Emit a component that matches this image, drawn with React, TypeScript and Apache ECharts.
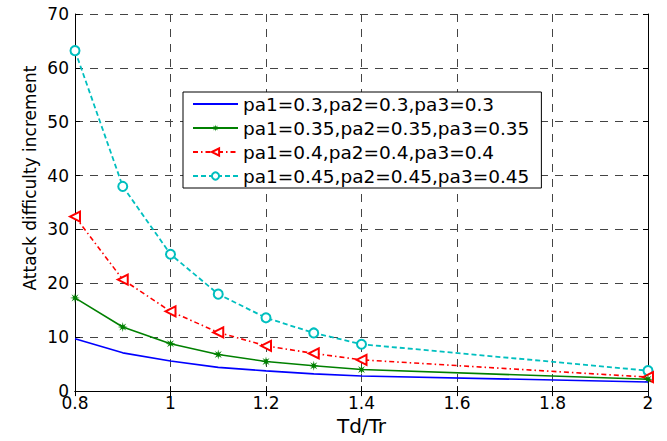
import React, { useEffect, useRef } from "react";
import * as echarts from "echarts";

const xValues = [0.8, 0.9, 1.0, 1.1, 1.2, 1.3, 1.4, 2.0];
const seriesNames = [
  "pa1=0.3,pa2=0.3,pa3=0.3",
  "pa1=0.35,pa2=0.35,pa3=0.35",
  "pa1=0.4,pa2=0.4,pa3=0.4",
  "pa1=0.45,pa2=0.45,pa3=0.45",
];
const blueValues = [9.7, 7.1, 5.6, 4.4, 3.75, 3.2, 2.8, 1.7];
const greenValues = [17.3, 11.9, 8.8, 6.8, 5.5, 4.7, 4.0, 2.2];
const redValues = [32.4, 20.7, 14.8, 10.9, 8.4, 7.0, 5.8, 2.6];
const cyanValues = [63.2, 38.0, 25.4, 18.0, 13.6, 10.8, 8.7, 3.8];
const xAxisTitle = "Td/Tr";
const yAxisTitle = "Attack difficulty increment";

const FONT = "DejaVu Sans";
const STAR =
  "path://M10,5 L6.66,5.69 L8.54,8.54 L5.69,6.66 L5,10 L4.31,6.66 L1.46,8.54 L3.34,5.69 L0,5 L3.34,4.31 L1.46,1.46 L4.31,3.34 L5,0 L5.69,3.34 L8.54,1.46 L6.66,4.31 Z";

function pairs(vals: number[]) {
  return xValues.map((x, i) => [x, vals[i]]);
}

export default function App() {
  const ref = useRef<HTMLDivElement>(null);
  useEffect(() => {
    if (!ref.current) return;
    const chart = echarts.init(ref.current, undefined, { renderer: "svg" });
    const gridLine = { show: true, lineStyle: { color: "#444", type: [8, 7], width: 1 } };
    const fmt = (v: number) => String(+Number(v).toFixed(1));
    const boxAxisLine = { show: true, lineStyle: { color: "#000", width: 1 } };
    const inTick = { show: true, inside: true, length: 5, lineStyle: { color: "#000" } };
    chart.setOption({
      animation: false,
      backgroundColor: "#fff",
      grid: { left: 75, right: 19, top: 14, bottom: 48, containLabel: false },
      legend: {
        orient: "vertical",
        left: 183,
        top: 92,
        padding: [2, 12, 2, 9],
        itemWidth: 45,
        itemHeight: 9,
        itemGap: 4,
        backgroundColor: "#fff",
        borderColor: "#000",
        borderWidth: 1,
        borderRadius: 0,
        textStyle: { fontFamily: FONT, fontSize: 18.5, color: "#000", lineHeight: 20 },
        data: [
          { name: seriesNames[0], itemStyle: { opacity: 0 } },
          seriesNames[1],
          seriesNames[2],
          seriesNames[3],
        ],
      },
      xAxis: [
        {
          type: "value",
          min: 0.8,
          max: 2,
          interval: 0.2,
          name: xAxisTitle,
          nameLocation: "middle",
          nameGap: 22,
          nameTextStyle: { fontFamily: FONT, fontSize: 20, color: "#000" },
          axisLine: boxAxisLine,
          axisTick: inTick,
          axisLabel: { fontFamily: FONT, fontSize: 17, color: "#000", margin: 3, formatter: fmt },
          splitLine: gridLine,
        },
        {
          type: "value",
          position: "top",
          min: 0.8,
          max: 2,
          interval: 0.2,
          axisLine: boxAxisLine,
          axisTick: inTick,
          axisLabel: { show: false },
          splitLine: { show: false },
        },
      ],
      yAxis: [
        {
          type: "value",
          min: 0,
          max: 70,
          interval: 10,
          axisLine: boxAxisLine,
          axisTick: inTick,
          axisLabel: { fontFamily: FONT, fontSize: 17, color: "#000", margin: 6 },
          splitLine: gridLine,
        },
        {
          type: "value",
          position: "right",
          min: 0,
          max: 70,
          interval: 10,
          axisLine: boxAxisLine,
          axisTick: inTick,
          axisLabel: { show: false },
          splitLine: { show: false },
        },
      ],
      graphic: [
        {
          type: "text",
          x: 30,
          y: 178,
          rotation: Math.PI / 2,
          style: {
            text: yAxisTitle,
            fontFamily: FONT,
            fontSize: 17,
            fill: "#000",
            align: "center",
            verticalAlign: "middle",
          },
        },
      ],
      series: [
        {
          name: seriesNames[0],
          type: "line",
          data: pairs(blueValues),
          symbol: "none",
          color: "#0000ff",
          lineStyle: { color: "#0000ff", width: 1.6 },
          z: 5,
        },
        {
          name: seriesNames[1],
          type: "line",
          data: pairs(greenValues),
          symbol: STAR,
          symbolSize: 10,
          color: "#008000",
          itemStyle: { color: "#008000" },
          lineStyle: { color: "#008000", width: 1.6 },
          z: 4,
        },
        {
          name: seriesNames[2],
          type: "line",
          data: pairs(redValues),
          symbol: "emptyTriangle",
          symbolSize: 10,
          symbolRotate: 90,
          color: "#ff0000",
          itemStyle: { color: "#ff0000", borderWidth: 1.5 },
          lineStyle: { color: "#ff0000", width: 1.6, type: [5, 3, 1.5, 3] },
          z: 3,
        },
        {
          name: seriesNames[3],
          type: "line",
          data: pairs(cyanValues),
          symbol: "emptyCircle",
          symbolSize: 9,
          color: "#00bfbf",
          itemStyle: { color: "#00bfbf", borderWidth: 1.5 },
          lineStyle: { color: "#00bfbf", width: 1.8, type: [5, 3] },
          z: 2,
        },
      ],
    });
    return () => chart.dispose();
  }, []);
  return (
    <div
      ref={ref}
      style={{ position: "fixed", left: 0, top: 0, width: 667, height: 441, background: "#fff" }}
    />
  );
}
